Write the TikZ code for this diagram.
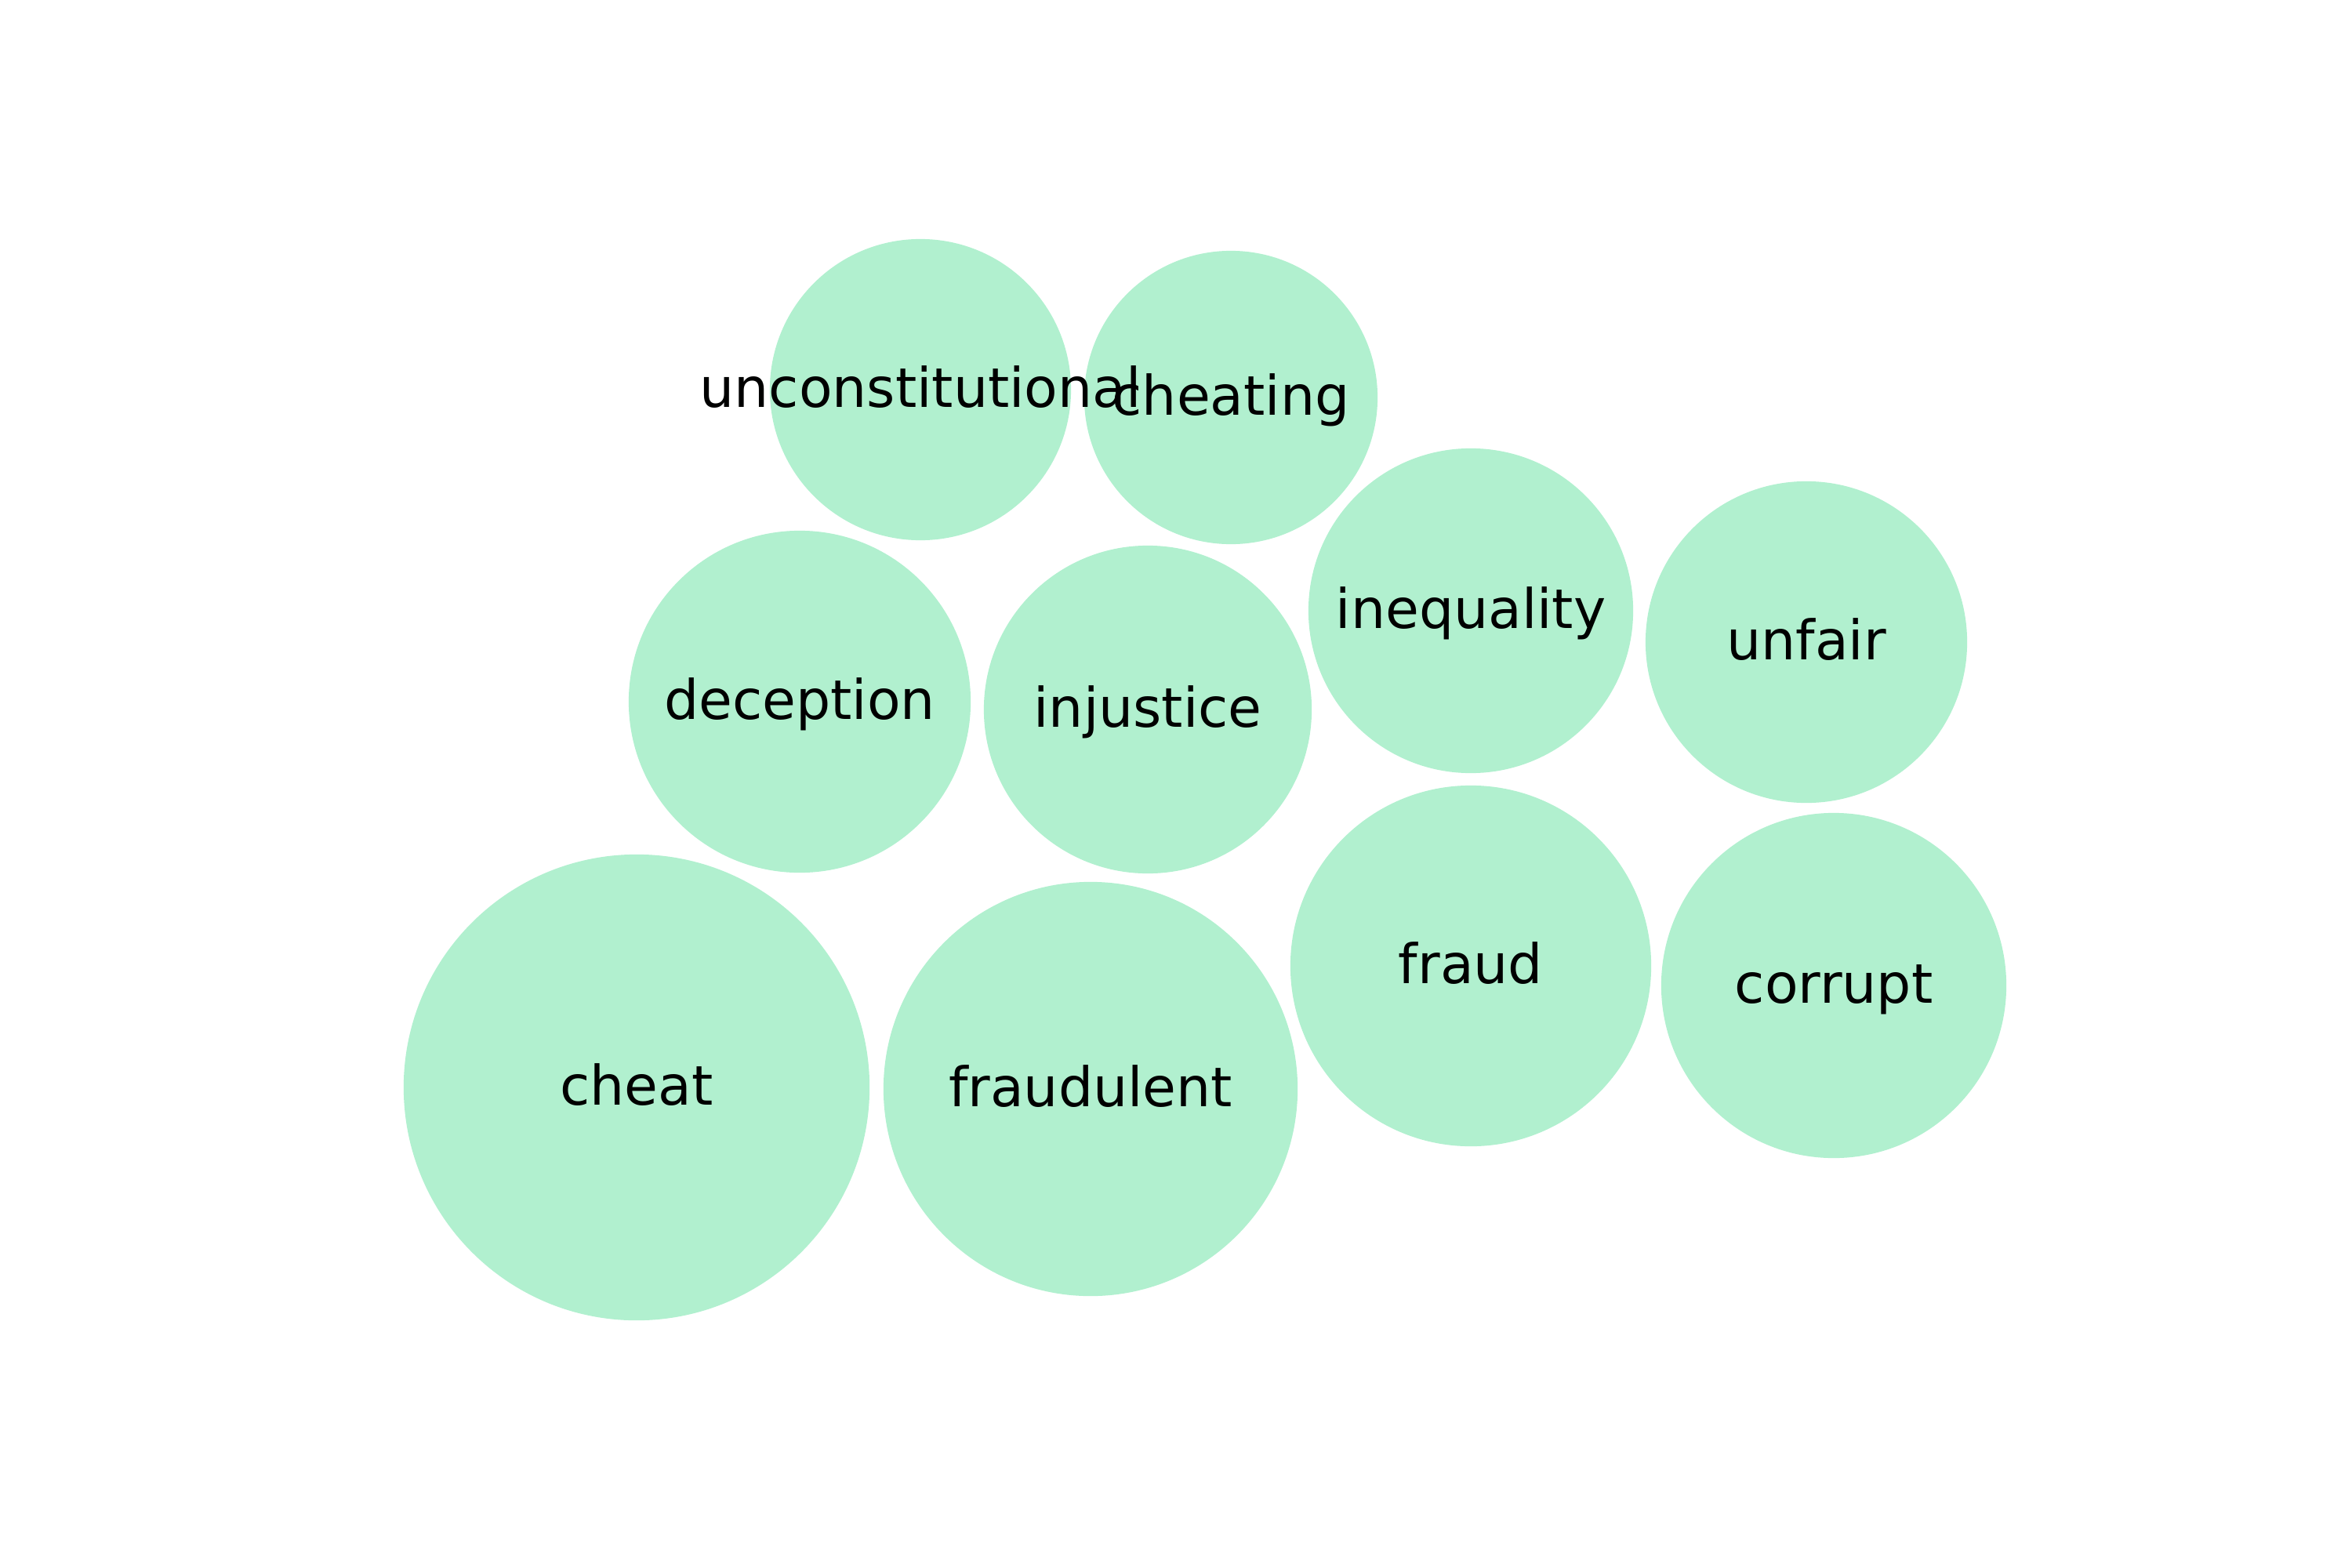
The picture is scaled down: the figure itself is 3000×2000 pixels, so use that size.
\documentclass[tikz,border=0pt]{standalone}
\usepackage{fontspec}
\setmainfont{DejaVu Sans}
\definecolor{bubblegreen}{RGB}{177,240,207}
\tikzset{
  bubble/.style={fill=bubblegreen},
  word/.style={inner sep=0pt, font=\fontsize{19.8pt}{23pt}\selectfont, text=black, text height=15.05pt, text depth=2.25pt}
}
\begin{document}
\begin{tikzpicture}[x=0.01cm,y=-0.01cm]
\useasboundingbox (0,0) rectangle (3000,2000);
\fill[bubble] (1174,497) circle (1.92cm);
\fill[bubble] (1570,507) circle (1.87cm);
\fill[bubble] (1876,779) circle (2.07cm);
\fill[bubble] (2304,819) circle (2.05cm);
\fill[bubble] (1020,895) circle (2.18cm);
\fill[bubble] (1464,905) circle (2.09cm);
\fill[bubble] (812,1387) circle (2.97cm);
\fill[bubble] (1391,1389) circle (2.64cm);
\fill[bubble] (1876,1232) circle (2.30cm);
\fill[bubble] (2339,1257) circle (2.20cm);
\node[word] (unconstitutional) at (1174,497) {unconstitutional};
\node[word] (cheating) at (1570,507) {cheating};
\node[word] (inequality) at (1876,779) {inequality};
\node[word] (unfair) at (2304,819) {unfair};
\node[word] (deception) at (1020,895) {deception};
\node[word] (injustice) at (1464,905) {injustice};
\node[word] (cheat) at (812,1387) {cheat};
\node[word] (fraudulent) at (1391,1389) {fraudulent};
\node[word] (fraud) at (1876,1232) {fraud};
\node[word] (corrupt) at (2339,1257) {corrupt};
\end{tikzpicture}
\end{document}
